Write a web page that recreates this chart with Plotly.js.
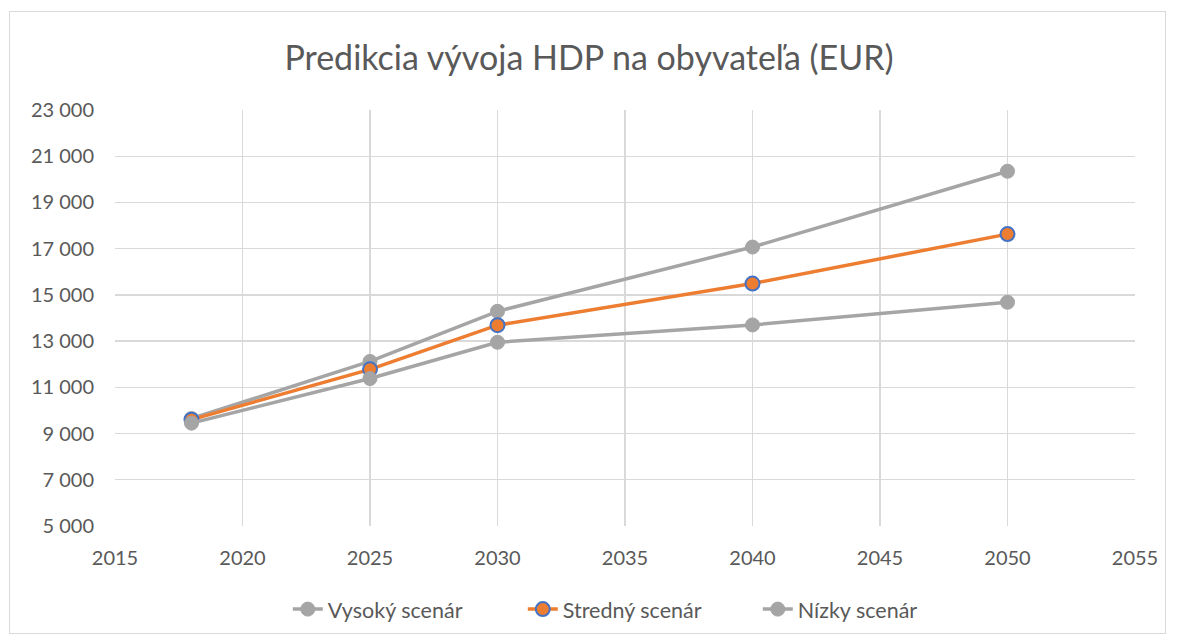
<!DOCTYPE html>
<html><head><meta charset="utf-8">
<script src="https://cdn.plot.ly/plotly-3.0.1.min.js"></script>
<style>
html,body{margin:0;padding:0;background:#fff;}
#frame{position:absolute;left:9px;top:11px;width:1157px;height:623px;border:1px solid #D9D9D9;box-sizing:border-box;pointer-events:none;}
#chart{position:absolute;left:0;top:0;width:1178px;height:641px;}
</style></head>
<body>
<div id="chart"></div>
<div id="frame"></div>
<script>
var years = [2018, 2025, 2030, 2040, 2050];
var vysoky = [9650, 12120, 14290, 17070, 20350];
var stredny = [9600, 11780, 13690, 15490, 17630];
var nizky = [9450, 11380, 12950, 13700, 14680];
var seriesNames = ["Vysoký scenár", "Stredný scenár", "Nízky scenár"];

var grey = '#A5A5A5', orange = '#ED7D31', blue = '#4472C4';
var traces = [
  {x: years, y: vysoky, name: seriesNames[0], mode: 'lines+markers',
   line: {color: grey, width: 3.5}, marker: {color: grey, size: 14, line: {color: grey, width: 1}}},
  {x: years, y: stredny, name: seriesNames[1], mode: 'lines+markers',
   line: {color: orange, width: 3.5}, marker: {color: orange, size: 14, line: {color: blue, width: 2}}},
  {x: years, y: nizky, name: seriesNames[2], mode: 'lines+markers',
   line: {color: grey, width: 3.5}, marker: {color: grey, size: 14, line: {color: grey, width: 1}}}
];
var layout = {
  width: 1178, height: 641,
  margin: {l: 115, r: 43, t: 110, b: 114},
  paper_bgcolor: 'rgba(0,0,0,0)', plot_bgcolor: '#fff',
  separators: ', ',
  font: {family: 'Lato, "Open Sans", sans-serif', color: '#595959', size: 20},
  title: {text: 'Predikcia vývoja HDP na obyvateľa (EUR)', x: 0.5, xanchor: 'center', y: 0.91, yanchor: 'middle',
          font: {size: 34, color: '#595959'}},
  xaxis: {range: [2015, 2055], dtick: 5, tick0: 2015, showgrid: true, gridcolor: '#D9D9D9', gridwidth: 1.3,
          zeroline: false, showline: false, ticks: 'outside', ticklen: 14, tickcolor: 'rgba(0,0,0,0)',
          tickfont: {size: 20, color: '#595959'}, fixedrange: true},
  yaxis: {range: [5000, 23000], dtick: 2000, tick0: 5000, tickformat: ',', showgrid: true, gridcolor: '#D9D9D9', gridwidth: 1.3,
          zeroline: false, showline: false, ticks: 'outside', ticklen: 16, tickcolor: 'rgba(0,0,0,0)',
          tickfont: {size: 20, color: '#595959'}, fixedrange: true},
  showlegend: true,
  legend: {orientation: 'h', x: 0.515, xanchor: 'center', y: -0.197, yanchor: 'middle',
           font: {size: 21.5, color: '#595959'}, entrywidth: 190, entrywidthmode: 'pixels'}
};
Plotly.newPlot('chart', traces, layout, {displayModeBar: false, staticPlot: true});
</script>
</body></html>
